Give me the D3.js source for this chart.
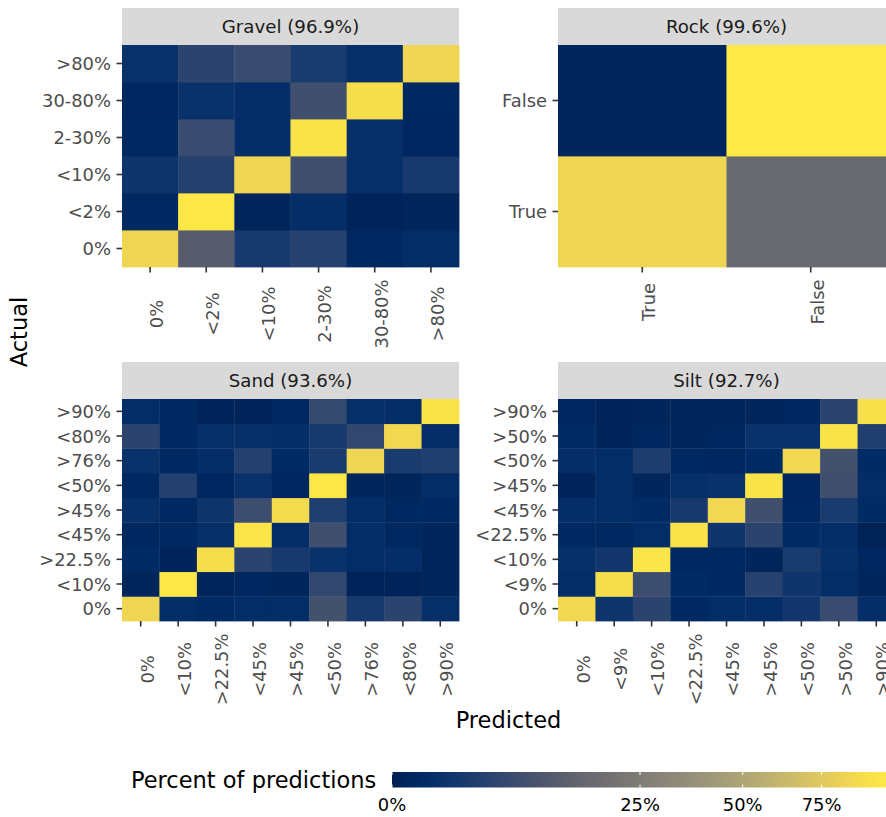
<!DOCTYPE html>
<html>
<head>
<meta charset="utf-8">
<script src="https://cdn.jsdelivr.net/npm/d3@7"></script>
<style>
  html, body { margin: 0; padding: 0; background: #ffffff; overflow: hidden; }
  svg { display: block; font-family: "DejaVu Sans", sans-serif; }
</style>
</head>
<body>
<svg id="chart" width="886" height="817"></svg>
<script>
// ---- Data: percent of predictions, rows = actual class, columns = predicted class ----
const facetNames = ["Gravel", "Rock", "Sand", "Silt"];
const facetAccuracy = [96.9, 99.6, 93.6, 92.7];

const gravelClasses = ["0%", "<2%", "<10%", "2-30%", "30-80%", ">80%"];
const gravelValues = [
  [84.6, 10.9, 2.0, 3.6, 0.25, 0.5],
  [0.25, 98.0, 0.09, 0.64, 0.04, 0.09],
  [1.2, 3.2, 84.6, 6.8, 0.8, 2.0],
  [0.25, 5.8, 0.64, 94.1, 0.8, 0.16],
  [0.16, 1.0, 0.64, 6.8, 90.3, 0.25],
  [1.0, 4.0, 5.8, 2.3, 0.8, 84.6]
];

const rockClasses = ["True", "False"];
const rockValues = [
  [84.6, 16.0],
  [0.1, 100.0]
];

const sandClasses = ["0%", "<10%", ">22.5%", "<45%", ">45%", "<50%", ">76%", "<80%", ">90%"];
const sandValues = [
  [84.6, 0.5, 0.36, 0.5, 0.5, 7.3, 2.0, 4.0, 0.8],
  [0.09, 98.0, 0.09, 0.16, 0.09, 4.8, 0.04, 0.04, 0.09],
  [0.36, 0.04, 90.3, 4.0, 2.0, 1.0, 0.5, 0.64, 0.09],
  [0.16, 0.25, 0.8, 96.0, 0.64, 6.8, 0.5, 0.25, 0.09],
  [0.8, 0.25, 1.4, 6.3, 88.4, 2.9, 0.5, 0.25, 0.25],
  [0.25, 3.2, 0.16, 1.0, 0.16, 98.0, 0.09, 0.09, 0.5],
  [1.0, 0.25, 0.64, 3.2, 0.36, 2.3, 84.6, 2.3, 2.9],
  [4.0, 0.25, 0.8, 0.8, 0.64, 2.0, 4.8, 86.5, 0.64],
  [0.5, 0.25, 0.04, 0.04, 0.25, 5.3, 0.8, 0.64, 94.1]
];

const siltClasses = ["0%", "<9%", "<10%", "<22.5%", "<45%", ">45%", "<50%", ">50%", ">90%"];
const siltValues = [
  [86.5, 1.2, 4.0, 0.25, 0.5, 0.64, 1.7, 5.8, 0.64],
  [0.5, 90.3, 6.3, 0.36, 0.25, 3.6, 1.4, 0.5, 0.09],
  [0.8, 1.7, 96.0, 0.25, 0.25, 0.09, 2.3, 0.8, 0.16],
  [0.25, 0.25, 0.5, 94.1, 1.4, 4.0, 0.36, 0.64, 0.01],
  [0.64, 0.5, 0.36, 2.0, 86.5, 6.8, 0.25, 2.3, 0.36],
  [0.04, 0.5, 0.09, 0.8, 1.0, 94.1, 0.16, 6.8, 0.5],
  [0.64, 0.5, 2.6, 0.25, 0.16, 0.36, 86.5, 7.3, 0.36],
  [0.36, 0.04, 0.16, 0.09, 0.16, 1.0, 1.0, 94.1, 2.9],
  [0.16, 0.04, 0.09, 0.09, 0.09, 0.09, 0.16, 4.0, 92.2]
];

const legendBreaks = [0, 25, 50, 75];

// ---- Layout ----
const facets = [
  { classes: gravelClasses, values: gravelValues, col: 0, row: 0 },
  { classes: rockClasses,   values: rockValues,   col: 1, row: 0 },
  { classes: sandClasses,   values: sandValues,   col: 0, row: 1 },
  { classes: siltClasses,   values: siltValues,   col: 1, row: 1 }
].map((f, i) => ({ ...f, name: facetNames[i], acc: facetAccuracy[i] }));

const colLeft = [122, 558];
const rowTop = [8, 362];
const panelW = 337, stripH = 37, panelH = 222;
const tickLen = 5.5, axisFont = 17.9, stripFont = 18.2;
const axisTextColour = "#4D4D4D", tickColour = "#333333";

const svg = d3.select("#chart");
const colour = d3.scaleSequentialSqrt(d3.interpolateCividis).domain([0, 100]);

facets.forEach(f => {
  const x0 = colLeft[f.col];
  const y0 = rowTop[f.row] + stripH;
  const x = d3.scaleBand().domain(f.classes).range([x0, x0 + panelW]);
  const y = d3.scaleBand().domain(f.classes).range([y0 + panelH, y0]);
  const g = svg.append("g");

  // strip
  g.append("rect")
    .attr("x", x0).attr("y", rowTop[f.row])
    .attr("width", panelW).attr("height", stripH)
    .attr("fill", "#D9D9D9");
  g.append("text")
    .attr("x", x0 + panelW / 2).attr("y", rowTop[f.row] + stripH / 2)
    .attr("text-anchor", "middle").attr("dominant-baseline", "central")
    .attr("font-size", stripFont).attr("fill", "#1A1A1A")
    .text(`${f.name} (${f.acc.toFixed(1)}%)`);

  // tiles
  const cells = f.values.flatMap((row, i) =>
    row.map((v, j) => ({ actual: f.classes[i], predicted: f.classes[j], value: v })));
  g.append("g").selectAll("rect")
    .data(cells)
    .join("rect")
    .attr("x", d => x(d.predicted))
    .attr("y", d => y(d.actual))
    .attr("width", x.bandwidth() + 0.4)
    .attr("height", y.bandwidth() + 0.4)
    .attr("fill", d => colour(d.value));

  // y axis
  const ya = g.append("g")
    .attr("transform", `translate(${x0},0)`)
    .call(d3.axisLeft(y).tickSize(tickLen).tickPadding(5.5));
  ya.select(".domain").remove();
  ya.selectAll(".tick line").attr("stroke", tickColour).attr("stroke-width", 1.6);
  ya.selectAll(".tick text")
    .attr("font-size", axisFont).attr("fill", axisTextColour)
    .attr("font-family", "DejaVu Sans, sans-serif")
    .attr("dy", null).attr("dominant-baseline", "central");

  // x axis, labels rotated and centred along their own length
  const xa = g.append("g")
    .attr("transform", `translate(0,${y0 + panelH})`)
    .call(d3.axisBottom(x).tickSize(tickLen));
  xa.select(".domain").remove();
  xa.selectAll(".tick line").attr("stroke", tickColour).attr("stroke-width", 1.6);
  const xt = xa.selectAll(".tick text")
    .attr("font-size", axisFont).attr("fill", axisTextColour)
    .attr("font-family", "DejaVu Sans, sans-serif")
    .attr("x", 0).attr("y", 0).attr("dy", null)
    .attr("text-anchor", "middle");
  let maxLen = 0;
  xt.each(function () { maxLen = Math.max(maxLen, this.getComputedTextLength()); });
  xt.attr("transform", `translate(12.8,${12.5 + maxLen / 2}) rotate(-90)`);
});

// ---- Axis titles ----
svg.append("text")
  .attr("transform", "translate(27,332) rotate(-90)")
  .attr("text-anchor", "middle")
  .attr("font-size", 22.5).attr("fill", "#000")
  .text("Actual");
svg.append("text")
  .attr("x", (colLeft[0] + colLeft[1] + panelW) / 2).attr("y", 727.5)
  .attr("text-anchor", "middle")
  .attr("font-size", 22.5).attr("fill", "#000")
  .text("Predicted");

// ---- Colour bar legend ----
const barTop = 772, barH = 15.5;
const legendScale = d3.scaleSqrt().domain([0, 100]).range([392, 888]);
const defs = svg.append("defs");
const grad = defs.append("linearGradient").attr("id", "cbar")
  .attr("x1", "0%").attr("x2", "100%").attr("y1", "0%").attr("y2", "0%");
d3.range(0, 1.0001, 0.02).forEach(t => {
  const px = legendScale.range()[0] + t * (legendScale.range()[1] - legendScale.range()[0]);
  grad.append("stop").attr("offset", `${t * 100}%`).attr("stop-color", colour(legendScale.invert(px)));
});
svg.append("rect")
  .attr("x", legendScale.range()[0]).attr("y", barTop)
  .attr("width", legendScale.range()[1] - legendScale.range()[0]).attr("height", barH)
  .attr("fill", "url(#cbar)");

const lt = svg.append("g").selectAll("g").data(legendBreaks).join("g")
  .attr("transform", d => `translate(${legendScale(d)},0)`);
lt.append("line").attr("y1", barTop).attr("y2", barTop + 3)
  .attr("stroke", "#fff").attr("stroke-width", 1);
lt.append("line").attr("y1", barTop + barH - 3).attr("y2", barTop + barH)
  .attr("stroke", "#fff").attr("stroke-width", 1);
lt.append("text")
  .attr("y", 811).attr("text-anchor", "middle")
  .attr("font-size", axisFont).attr("fill", "#000")
  .text(d => `${d}%`);

svg.append("text")
  .attr("x", 131).attr("y", 788)
  .attr("font-size", 22.5).attr("fill", "#000")
  .text("Percent of predictions");
</script>
</body>
</html>
